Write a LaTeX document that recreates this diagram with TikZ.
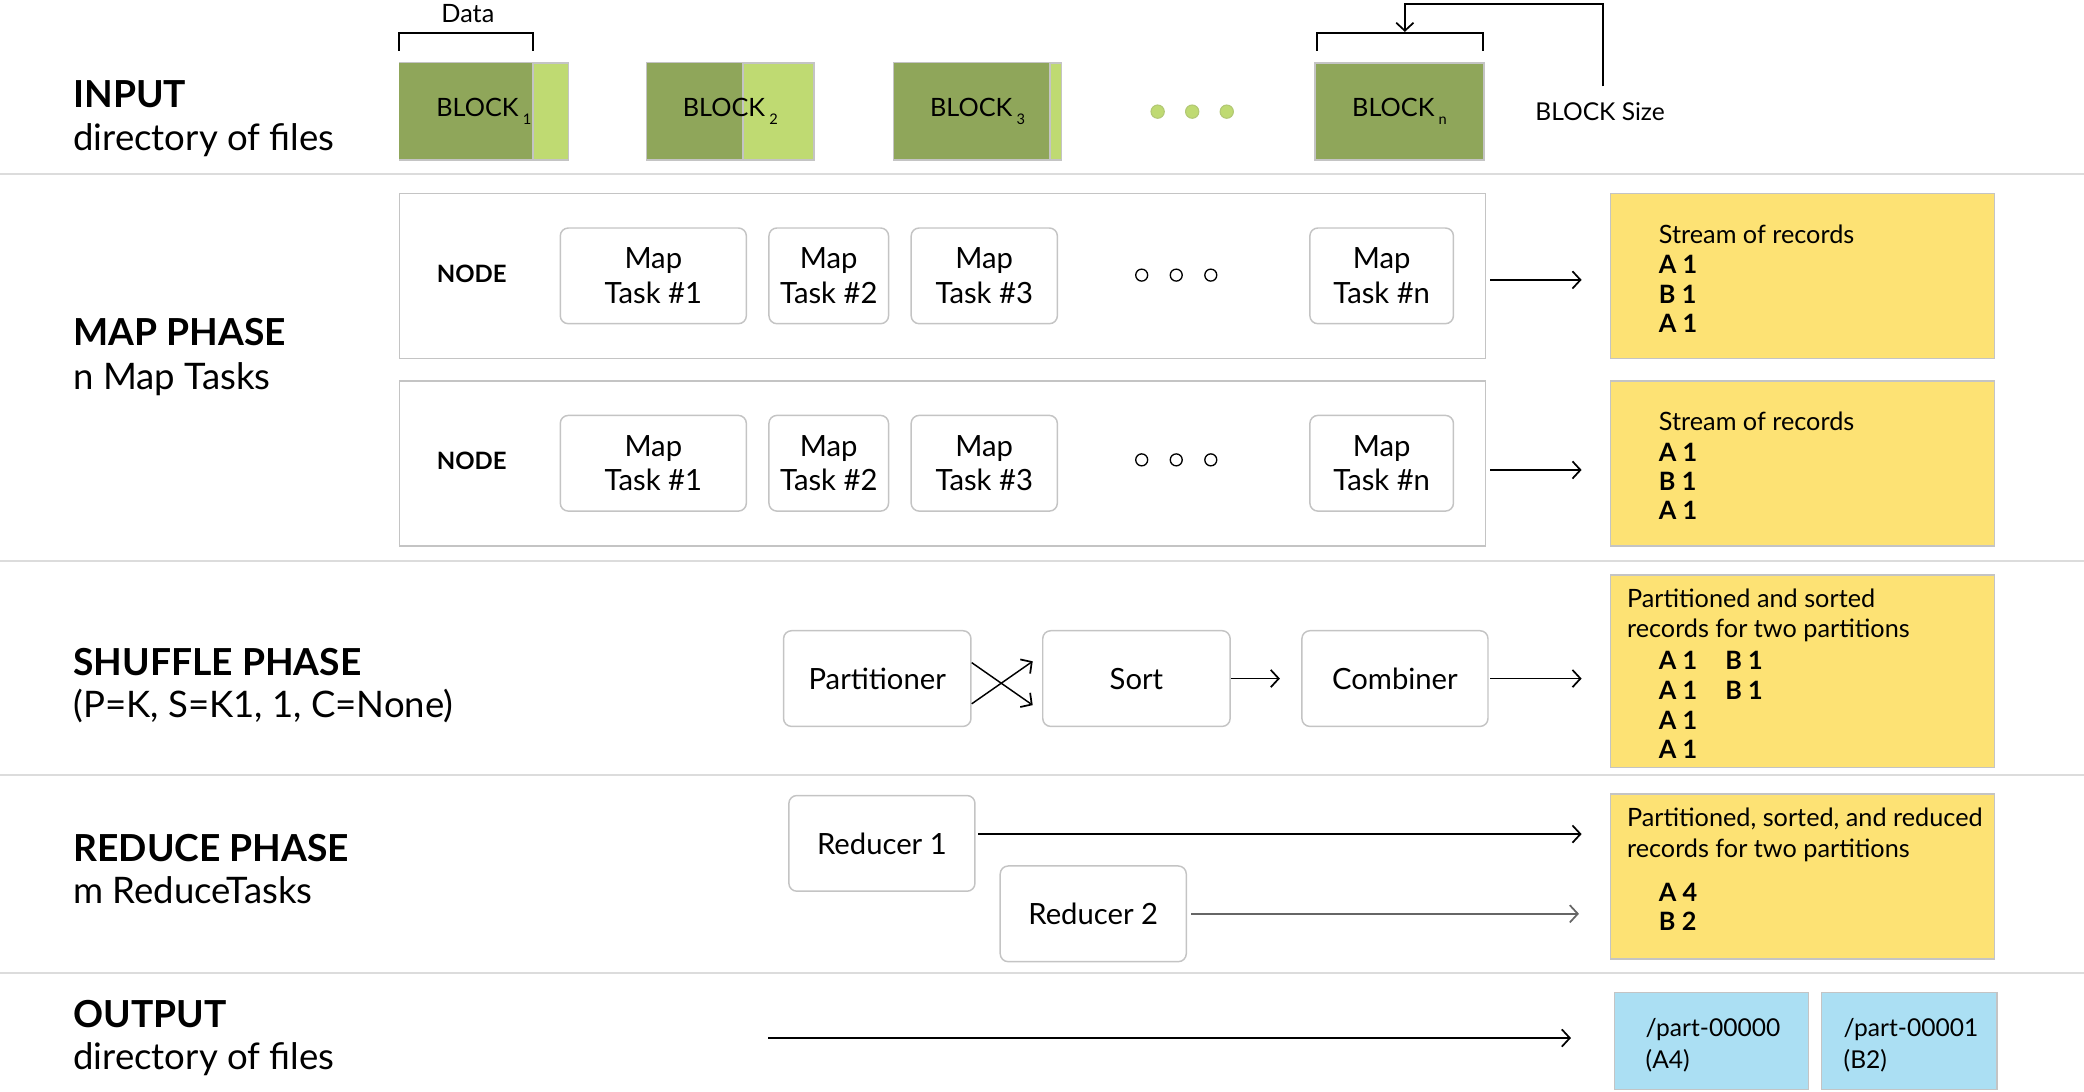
\documentclass[tikz,border=0pt]{standalone}
\usepackage{fontspec}
\setmainfont{Lato}
\newfontfamily\regf{Lato}
\newfontfamily\medf{Lato}
\usetikzlibrary{arrows.meta}
\definecolor{sepc}{HTML}{DCDCDC}
\definecolor{dgreen}{HTML}{8FA65A}
\definecolor{lgreen}{HTML}{BFDA72}
\definecolor{yel}{HTML}{FDE274}
\definecolor{blu}{HTML}{ABDFF3}
\definecolor{bord}{HTML}{C4C4C4}
\begin{document}
\begin{tikzpicture}[x=1pt,y=-1pt,
  arr/.style={line width=1.3pt,-{Straight Barb[length=6pt,width=13pt,line width=1.3pt]}},
  hd/.style={anchor=base west,inner sep=0,font=\bfseries\fontsize{28}{30}\selectfont},
  sub/.style={anchor=base west,inner sep=0,font=\fontsize{27.5}{30}\selectfont},
  taskbox/.style={draw=bord,line width=1.1pt,rounded corners=6pt,fill=white,anchor=north west,
     minimum height=72pt,inner sep=0,align=center,font=\regf\fontsize{22}{26}\selectfont},
  frame/.style={draw=bord,line width=1.2pt,anchor=north west,inner sep=0,minimum width=817pt,minimum height=124pt},
  yelbox/.style={draw=bord,line width=1.2pt,fill=yel,anchor=north west,inner sep=0,minimum width=289pt},
  blubox/.style={draw=bord,line width=1.2pt,fill=blu,anchor=north west,inner sep=0,minimum height=73pt},
  ytxt/.style={anchor=base west,inner sep=0,font=\fontsize{19}{22}\selectfont},
  ybold/.style={anchor=base west,inner sep=0,font=\regf\bfseries\fontsize{19}{22}\selectfont},
  otxt/.style={anchor=base west,inner sep=0,font=\regf\fontsize{18.5}{22}\selectfont},
  blk/.style={draw=bord,line width=1pt,anchor=north west,inner sep=0,minimum height=73pt},
  blbl/.style={inner sep=0,font=\regf\fontsize{19}{22}\selectfont},
  nodelbl/.style={inner sep=0,font=\medf\bfseries\fontsize{18}{22}\selectfont},
  brk/.style={line width=1.4pt},
]
\useasboundingbox (0,0) rectangle (1568,821);
% separators
\foreach \yy in {131,422,583,732} \draw[sepc,line width=1.5pt] (0,\yy) -- (1568,\yy);

% left labels
\node[hd]  (inH) at (55,81)  {INPUT};
\node[sub] (inS) at (55,113) {directory of files};
\node[hd]  (mpH) at (55,260) {MAP PHASE};
\node[sub] (mpS) at (55,293) {n Map Tasks};
\node[hd]  (shH) at (55,508) {SHUFFLE PHASE};
\node[sub] (shS) at (55,540) {(P=K, S=K1, 1, C=None)};
\node[hd]  (rdH) at (55,648) {REDUCE PHASE};
\node[sub] (rdS) at (55,680) {m ReduceTasks};
\node[hd]  (otH) at (55,773) {OUTPUT};
\node[sub] (otS) at (55,805) {directory of files};

% blocks
\node[blk,fill=lgreen,minimum width=127pt] (b1) at (300,47) {};
\fill[dgreen] (300.5,47.5) rectangle (401,119.5);
\draw[bord,line width=1pt] (401,47) -- (401,120);
\node[blk,fill=lgreen,minimum width=126pt] (b2) at (486,47) {};
\fill[dgreen] (486.5,47.5) rectangle (559,119.5);
\draw[bord,line width=1pt] (559,47) -- (559,120);
\node[blk,fill=lgreen,minimum width=126pt] (b3) at (672,47) {};
\fill[dgreen] (672.5,47.5) rectangle (790,119.5);
\draw[bord,line width=1pt] (790,47) -- (790,120);
\node[blk,fill=dgreen,minimum width=127pt] (bn) at (989,47) {};
\node[blbl] (l1) at (b1.center) {BLOCK\,\raisebox{-6pt}{\fontsize{11}{11}\selectfont 1}};
\node[blbl] (l2) at (b2.center) {BLOCK\,\raisebox{-6pt}{\fontsize{11}{11}\selectfont 2}};
\node[blbl] (l3) at (b3.center) {BLOCK\,\raisebox{-6pt}{\fontsize{11}{11}\selectfont 3}};
\node[blbl] (ln) at (bn.center) {BLOCK\,\raisebox{-6pt}{\fontsize{11}{11}\selectfont n}};
\foreach \xx in {871,897,923} \filldraw[fill=lgreen,draw=lgreen!80!gray,line width=0.8pt] (\xx,84) circle (5pt);

% brackets
\draw[brk] (300,38) -- (300,25) -- (401,25) -- (401,38);
\node[inner sep=0,font=\fontsize{19}{22}\selectfont] (data) at (352,10) {Data};
\draw[brk] (991,38) -- (991,25) -- (1116,25) -- (1116,38);
\node[anchor=west,inner sep=0,font=\fontsize{18.5}{22}\selectfont] (bsize) at (1155,84) {BLOCK Size};
\coordinate (bsStart) at (1206,65);
\coordinate (bsTop) at (1206,3);
\coordinate (bnBr) at (1057,24);
\draw[arr,line width=1.4pt] (bsStart) -- (bsTop) -| (bnBr);

% map phase
\node[frame] (n1) at (300,145) {};
\node[frame] (n2) at (300,286) {};
\node[nodelbl] (nl1) at (355,206) {NODE};
\node[nodelbl] (nl2) at (355,347) {NODE};
\foreach \r/\yy in {1/171,2/312}{
  \node[taskbox,minimum width=140pt] (t\r a) at (421,\yy) {Map\\Task \#1};
  \node[taskbox,minimum width=90pt]  (t\r b) at (578,\yy) {Map\\Task \#2};
  \node[taskbox,minimum width=110pt] (t\r c) at (685,\yy) {Map\\Task \#3};
  \node[taskbox,minimum width=108pt] (t\r n) at (985,\yy) {Map\\Task \#n};
}
\foreach \xx in {859,885,911} {\draw[line width=1pt] (\xx,207) circle (4.5pt); \draw[line width=1pt] (\xx,346) circle (4.5pt);}
\node[yelbox,minimum height=124pt] (y1) at (1211,145) {};
\node[yelbox,minimum height=124pt] (y2) at (1211,286) {};
\draw[arr,shorten <=3pt,shorten >=21pt] ([yshift=-3pt]n1.east) -- ([yshift=-3pt]n1.east -| y1.west);
\draw[arr,shorten <=3pt,shorten >=21pt] ([yshift=-5pt]n2.east) -- ([yshift=-5pt]n2.east -| y2.west);
\node[ytxt]  (s1)  at (1248,183) {Stream of records};
\node[ybold] (s1a) at (1248,206) {A 1};
\node[ybold] (s1b) at (1248,228) {B 1};
\node[ybold] (s1c) at (1248,250) {A 1};
\node[ytxt]  (s2)  at (1248,324) {Stream of records};
\node[ybold] (s2a) at (1248,347) {A 1};
\node[ybold] (s2b) at (1248,369) {B 1};
\node[ybold] (s2c) at (1248,391) {A 1};

% shuffle phase
\node[taskbox,minimum width=141pt] (part) at (589,474) {Partitioner};
\node[taskbox,minimum width=141pt] (sort) at (784,474) {Sort};
\node[taskbox,minimum width=140pt] (comb) at (979,474) {Combiner};
\draw[arr,line width=1.1pt] ([yshift=12pt]part.east) -- ([xshift=-7pt,yshift=-20pt]sort.west);
\draw[arr,line width=1.1pt] ([yshift=-19pt]part.east) -- ([xshift=-7pt,yshift=13pt]sort.west);
\draw[arr,shorten >=16pt] (sort.east) -- (comb.west);
\node[yelbox,minimum height=145pt] (y3) at (1211,432) {};
\draw[arr,shorten <=1pt,shorten >=21pt] (comb.east) -- (comb.east -| y3.west);
\node[ytxt]  (p1) at (1224,457) {Partitioned and sorted};
\node[ytxt]  (p2) at (1224,480) {records for two partitions};
\foreach \k/\yy in {1/504,2/526,3/549,4/571} \node[ybold] (pa\k) at (1248,\yy) {A 1};
\node[ybold] (pb1) at (1298,504) {B 1};
\node[ybold] (pb2) at (1298,526) {B 1};

% reduce phase
\node[taskbox,minimum width=140pt] (r1) at (593,598) {Reducer 1};
\node[taskbox,minimum width=140pt] (r2) at (752,651) {Reducer 2};
\node[yelbox,minimum height=124pt] (y4) at (1211,597) {};
\draw[arr,shorten <=2pt,shorten >=21pt] ([yshift=7pt]r1.east) -- ([yshift=7pt]r1.east -| y4.west);
\draw[arr,draw=black!60,line width=1.6pt,shorten <=3pt,shorten >=23pt] (r2.east) -- (r2.east -| y4.west);
\node[ytxt]  (q1) at (1224,622) {Partitioned, sorted, and reduced};
\node[ytxt]  (q2) at (1224,645) {records for two partitions};
\node[ybold] (q3) at (1248,678) {A 4};
\node[ybold] (q4) at (1248,700) {B 2};

% output
\node[blubox,minimum width=146pt] (o1) at (1214,746) {};
\node[blubox,minimum width=132pt] (o2) at (1370,746) {};
\coordinate (outS) at (578,781);
\draw[arr,shorten >=32pt] (outS) -- (outS -| o1.west);
\node[otxt] (o1a) at (1238,780) {/part-00000};
\node[otxt] (o1b) at (1238,804) {(A4)};
\node[otxt] (o2a) at (1387,780) {/part-00001};
\node[otxt] (o2b) at (1387,804) {(B2)};
\end{tikzpicture}
\end{document}
